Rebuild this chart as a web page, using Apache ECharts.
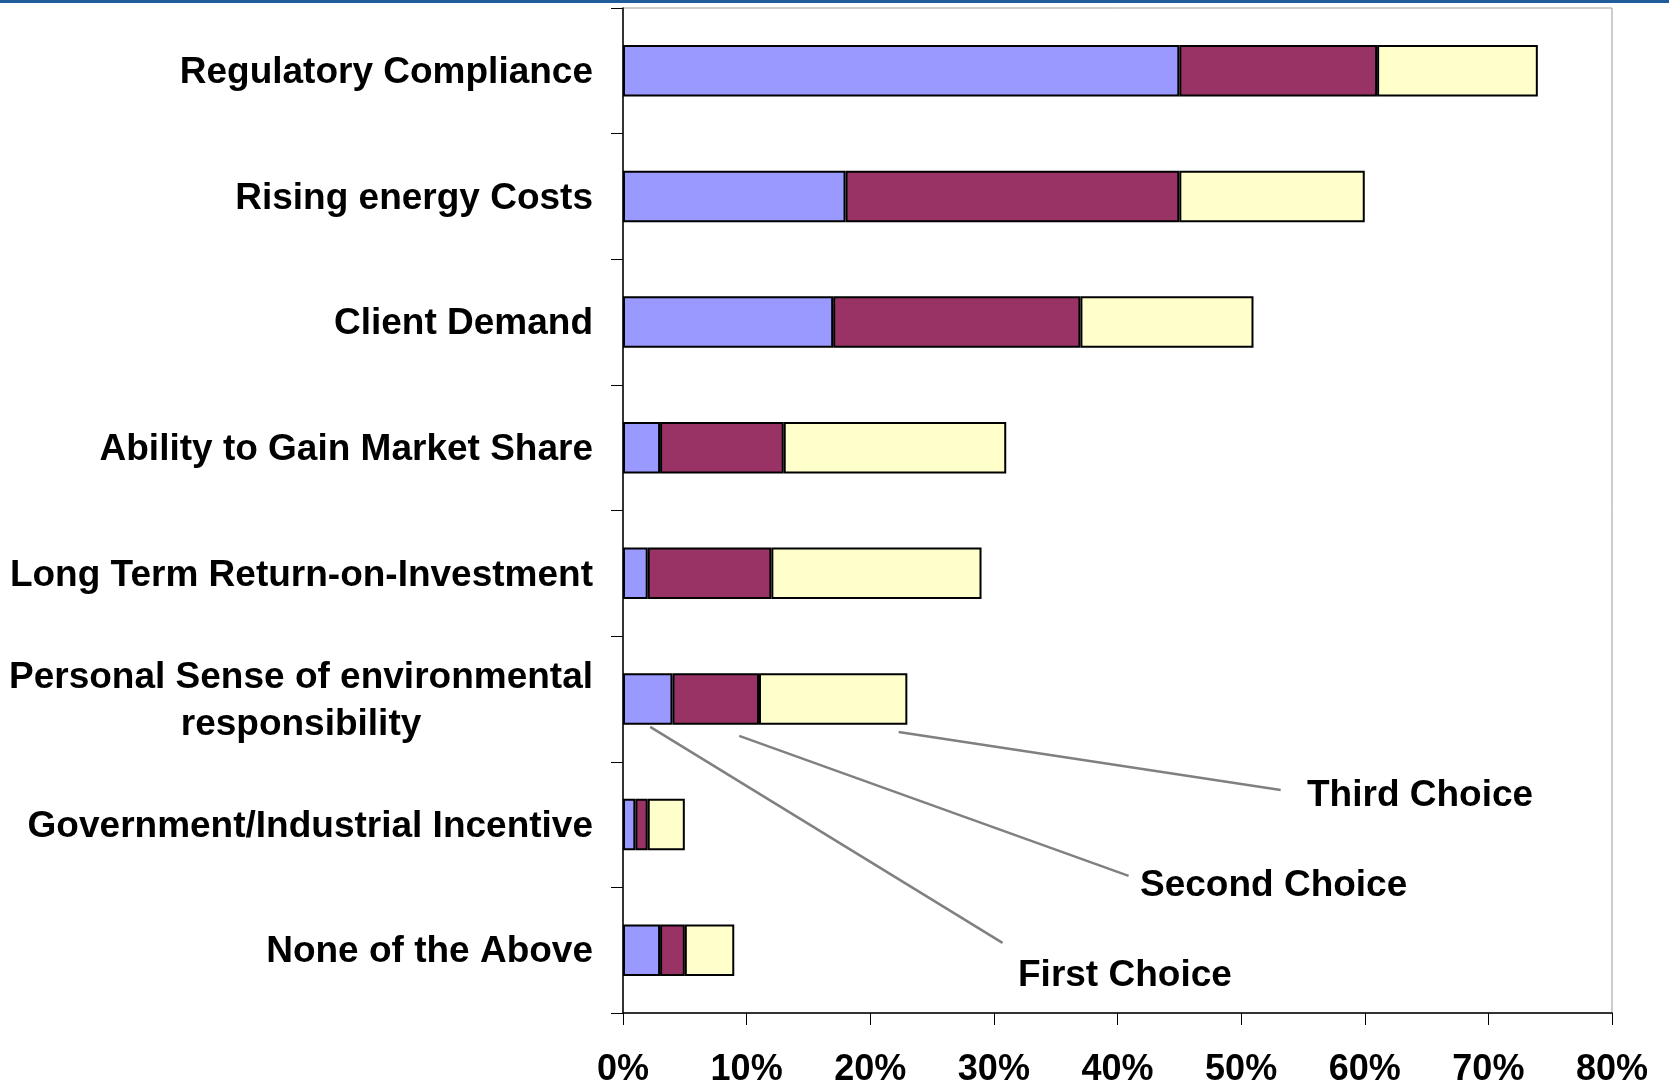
<!DOCTYPE html>
<html>
<head>
<meta charset="utf-8">
<script src="https://cdn.jsdelivr.net/npm/echarts@6/dist/echarts.min.js"></script>
<style>
  html, body { margin: 0; padding: 0; background: #ffffff; }
  #chart { width: 1669px; height: 1088px; }
</style>
</head>
<body>
<div id="chart"></div>
<script>
// categories (top to bottom)
var categories = [
  "Regulatory Compliance",
  "Rising energy Costs",
  "Client Demand",
  "Ability to Gain Market Share",
  "Long Term Return-on-Investment",
  "Personal Sense of environmental\nresponsibility",
  "Government/Industrial Incentive",
  "None of the Above"
];
var seriesNames = ["First Choice", "Second Choice", "Third Choice"];
var firstChoice = [45, 18, 17, 3, 2, 4, 1, 3];
var secondChoice = [16, 27, 20, 10, 10, 7, 1, 2];
var thirdChoice = [13, 15, 14, 18, 17, 12, 3, 4];
var xTicks = [0, 10, 20, 30, 40, 50, 60, 70, 80];

var colors = ["#9999ff", "#993366", "#ffffcc"];
var font = "'Liberation Sans', Arial, sans-serif";

var myChart = echarts.init(document.getElementById("chart"));

var makeSeries = function (name, data, color) {
  return {
    name: name,
    type: "bar",
    stack: "total",
    barWidth: "41%",
    data: data,
    itemStyle: {
      color: color,
      borderColor: "#000000",
      borderWidth: 2
    },
    emphasis: { disabled: true }
  };
};

var option = {
  animation: false,
  backgroundColor: "#ffffff",
  grid: {
    left: 623,
    right: 57,
    top: 8,
    bottom: 74,
    show: true,
    borderColor: "#9a9a9a",
    borderWidth: 1,
    backgroundColor: "transparent"
  },
  xAxis: {
    type: "value",
    min: xTicks[0],
    max: xTicks[xTicks.length - 1],
    interval: 10,
    splitLine: { show: false },
    axisLine: { show: true, lineStyle: { color: "#000000", width: 1.5 } },
    axisTick: { show: true, length: 12, lineStyle: { color: "#000000" } },
    axisLabel: {
      margin: 39,
      fontFamily: font,
      fontSize: 36,
      fontWeight: "bold",
      color: "#000000",
      formatter: "{value}%"
    }
  },
  yAxis: {
    type: "category",
    inverse: true,
    data: categories,
    axisLine: { show: true, lineStyle: { color: "#000000", width: 1.5 } },
    axisTick: { show: true, length: 12, lineStyle: { color: "#000000" } },
    axisLabel: {
      margin: 30,
      align: "right",
      formatter: function (v) {
        return v.split("\n").map(function (s) { return "{c|" + s + "}"; }).join("\n");
      },
      rich: {
        c: {
          align: "center",
          fontFamily: font,
          fontSize: 37,
          fontWeight: "bold",
          color: "#000000",
          lineHeight: 47,
          padding: [4, 0, 0, 0]
        }
      }
    }
  },
  series: [
    makeSeries(seriesNames[0], firstChoice, colors[0]),
    makeSeries(seriesNames[1], secondChoice, colors[1]),
    makeSeries(seriesNames[2], thirdChoice, colors[2])
  ]
};

myChart.setOption(option);

// series-name callouts pointing at the "Personal Sense" bar (Excel style)
var calloutCat = 5;
var callouts = [
  { name: seriesNames[0], from: 2.2, fromDy: 28, to: 30.7, toDy: 244, textX: 1018, textDy: 277 },
  { name: seriesNames[1], from: 9.4, fromDy: 37, to: 40.9, toDy: 177, textX: 1140, textDy: 187 },
  { name: seriesNames[2], from: 22.3, fromDy: 33, to: 53.2, toDy: 91, textX: 1307, textDy: 97 }
];
var graphics = [
  { type: "rect", left: 0, top: 0, shape: { width: 1669, height: 3 }, style: { fill: "#1f5c99" } }
];
callouts.forEach(function (c) {
  var p0 = myChart.convertToPixel({ gridIndex: 0 }, [c.from, calloutCat]);
  var p1 = myChart.convertToPixel({ gridIndex: 0 }, [c.to, calloutCat]);
  graphics.push({
    type: "line",
    shape: { x1: p0[0], y1: p0[1] + c.fromDy, x2: p1[0], y2: p1[1] + c.toDy },
    style: { stroke: "#808080", lineWidth: 2.5 }
  });
  graphics.push({
    type: "text",
    x: c.textX,
    y: p0[1] + c.textDy,
    style: {
      text: c.name,
      fontFamily: font,
      fontSize: 37,
      fontWeight: "bold",
      fill: "#000000",
      verticalAlign: "middle"
    }
  });
});
myChart.setOption({ graphic: graphics });
</script>
</body>
</html>
